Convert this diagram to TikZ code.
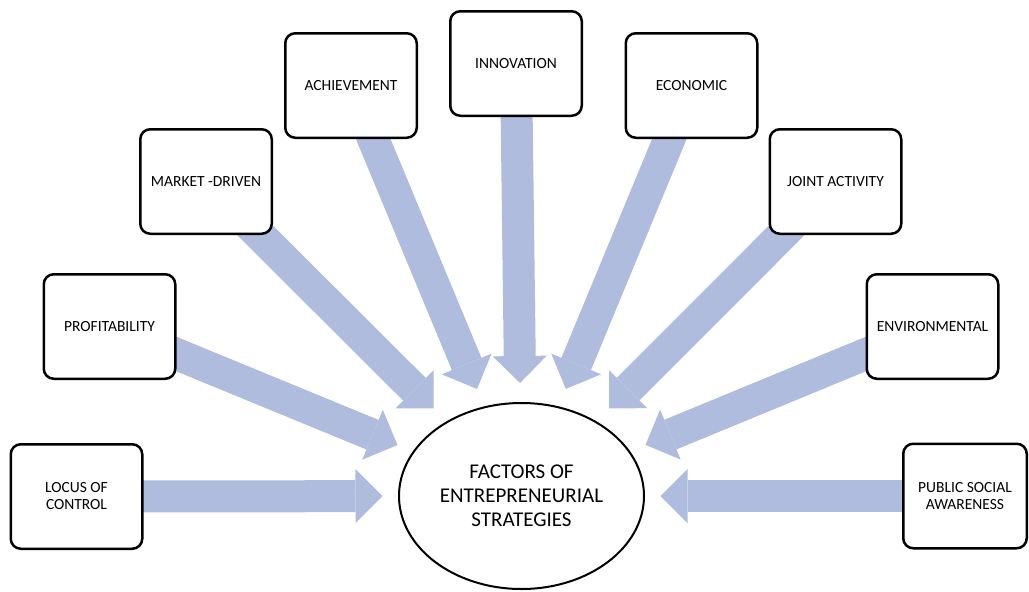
\documentclass[tikz,border=0pt]{standalone}
\usepackage{fontspec}
\setmainfont{Carlito}
\usetikzlibrary{arrows.meta,shapes.geometric}
\pgfdeclarelayer{background}
\pgfsetlayers{background,main}
\definecolor{feedblue}{RGB}{175,188,222}

\begin{document}
\begin{tikzpicture}[x=1pt,y=-1pt]
  \tikzset{factor/.style={draw, fill=white, line width=2.5pt, rounded corners=10pt,
      minimum width=131.5pt, minimum height=104.5pt, align=center,
      font=\fontsize{15.5}{17}\selectfont},
    feed/.style={draw=feedblue, line width=32pt,
      -{Triangle[width=54pt,length=27pt,line width=0pt]}}}
  \useasboundingbox (0,0) rectangle (1029,592);
  % the centre ellipse, outer sep keeps the arrow tips off its rim
  \node (fac) [ellipse, draw, line width=2pt, minimum width=245pt, minimum height=186pt,
    outer xsep=16.5pt, outer ysep=20pt, align=center,
    font=\fontsize{21}{24}\selectfont] at (521.5,496) {FACTORS OF\\ENTREPRENEURIAL\\STRATEGIES};
  \node (locus) [factor] at (76.5,496.5) {LOCUS OF\\CONTROL};
  \node (profit) [factor] at (109.5,326.5) {PROFITABILITY};
  \node (market) [factor] at (206,181.5) {MARKET -DRIVEN};
  \node (achieve) [factor] at (351,85.5) {ACHIEVEMENT};
  \node (innov) [factor] at (516,63.5) {INNOVATION};
  \node (econ) [factor] at (691.5,85.5) {ECONOMIC};
  \node (joint) [factor] at (835.5,181.5) {JOINT ACTIVITY};
  \node (environ) [factor] at (932.5,326.5) {ENVIRONMENTAL};
  \node (public) [factor, minimum width=123.5pt] at (965,496) {PUBLIC SOCIAL\\AWARENESS};
  % fat arrows run behind the boxes
  \begin{pgfonlayer}{background}
    \foreach \f in {locus,profit,market,achieve,innov,econ,joint,environ,public}
      \draw[feed] (\f.center) -- (fac);
  \end{pgfonlayer}
\end{tikzpicture}
\end{document}
